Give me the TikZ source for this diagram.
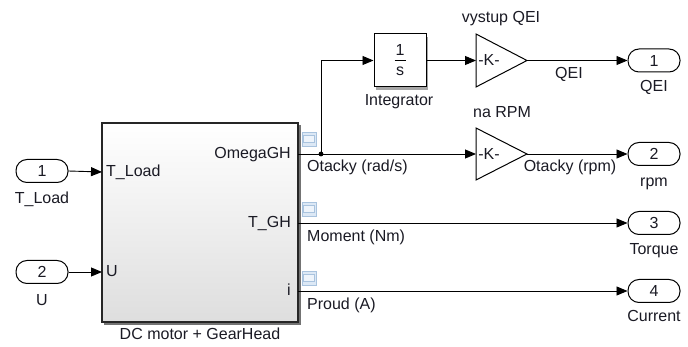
\documentclass[tikz,border=0pt]{standalone}
\usepackage{fontspec}
\setmainfont{Liberation Sans}
\usetikzlibrary{arrows.meta}
\definecolor{txt}{HTML}{1A1A24}
\definecolor{iconfill}{HTML}{DCE8F5}
\definecolor{icondraw}{HTML}{A9C3DE}
\definecolor{iconin}{HTML}{EEF4FB}
\begin{document}
\begin{tikzpicture}[x=1pt,y=-1pt,
  every node/.style={font=\fontsize{16}{19}\selectfont, inner sep=0pt, text=txt},
  lbl/.style={text height=11.5pt, text depth=3pt},
  sig/.style={line width=0.9pt, -{Triangle[length=11pt,width=9pt]}},
  wire/.style={line width=0.9pt},
  port/.style={draw, line width=1pt, rounded corners=11pt, minimum width=52pt, minimum height=23pt, fill=white},
  icon/.style={draw=icondraw, fill=iconfill, line width=0.9pt, minimum width=14pt, minimum height=14pt},
  iconinner/.style={draw=icondraw, fill=iconin, line width=0.7pt},
  gain/.style={draw, line width=1pt, fill=white}
]
\useasboundingbox (0,0) rectangle (688,347);

% main block with shadow
\fill[black!55] (104,125) rectangle (301,325);
\node[draw=black!85, line width=1.2pt, top color=white, bottom color=black!13,
      minimum width=196pt, minimum height=199pt] (dc) at (200,222.5) {};
\coordinate (dcin1) at (102,172);
\coordinate (dcin2) at (102,272);
\coordinate (dcout1) at (298,154);
\coordinate (dcout2) at (298,223);
\coordinate (dcout3) at (298,291);
\node[lbl, anchor=west] (pT) at (106,172) {T\_Load};
\node[lbl, anchor=west] (pU) at (106,272) {U};
\node[lbl, anchor=east] (pO) at (291,154) {OmegaGH};
\node[lbl, anchor=east] (pTG) at (291,223) {T\_GH};
\node[lbl, anchor=east] (pi) at (291,291) {i};
\node[lbl] (dclab) at (200,335) {DC motor + GearHead};

% port icons
\foreach \n/\y in {ic1/139, ic2/209, ic3/278}{
  \node[icon] (\n) at (309,\y) {};
  \draw[iconinner] (303.5,\y-4) rectangle (314.5,\y+3);
}

% inports
\node[port] (in1) at (42,171) {1};
\node[port] (in2) at (42,272) {2};
\node[lbl] (in1l) at (42,199) {T\_Load};
\node[lbl] (in2l) at (42,301) {U};
\draw[sig] (in1.east) -- (dcin1);
\draw[sig] (in2.east) -- (dcin2);

% integrator
\fill[black!35] (376,37) rectangle (428,90);
\node[draw, line width=1pt, fill=white, minimum width=52pt, minimum height=53pt] (int) at (400,60.5) {};
\node (one) at (400,50) {1};
\node (ess) at (400,71) {s};
\draw[line width=0.8pt] (394.5,60.5) -- (405.5,60.5);
\node[lbl] (intl) at (399,101) {Integrator};

% gains
\coordinate (g1in) at (476,60.5);
\coordinate (g1out) at (527,60.5);
\draw[gain] (476,34) -- (g1out) -- (476,87) -- cycle;
\node (k1) at (489,60) {-K-};
\node[lbl] (g1l) at (501,18) {vystup QEI};
\coordinate (g2in) at (476,154);
\coordinate (g2out) at (527,154);
\draw[gain] (476,128) -- (g2out) -- (476,180) -- cycle;
\node (k2) at (489,154) {-K-};
\node[lbl] (g2l) at (502,113) {na RPM};

% outports
\node[port] (out1) at (654,60.5) {1};
\node[port] (out2) at (654,154) {2};
\node[port] (out3) at (654,223) {3};
\node[port] (out4) at (654,291) {4};
\node[lbl] (o1l) at (654,87) {QEI};
\node[lbl] (o2l) at (654,182) {rpm};
\node[lbl] (o3l) at (654,250) {Torque};
\node[lbl] (o4l) at (654,317) {Current};

% wires
\coordinate (br) at (321,154);
\draw[wire] (dcout1) -- (br);
\draw[sig] (br) -- (g2in);
\draw[sig] (br) |- (int.west);
\fill (br) circle (2.4pt);
\draw[sig] (int.east) -- (g1in);
\draw[sig] (g1out) -- (out1.west);
\draw[sig] (g2out) -- (out2.west);
\draw[sig] (dcout2) -- (out3.west);
\draw[sig] (dcout3) -- (out4.west);

% signal labels
\node[lbl] (sQ) at (569,74) {QEI};
\node[lbl] (sR) at (570,167) {Otacky (rpm)};
\node[lbl, anchor=west] (sO) at (307,167) {Otacky (rad/s)};
\node[lbl, anchor=west] (sM) at (307,237) {Moment (Nm)};
\node[lbl, anchor=west] (sP) at (307,305) {Proud (A)};
\end{tikzpicture}
\end{document}
